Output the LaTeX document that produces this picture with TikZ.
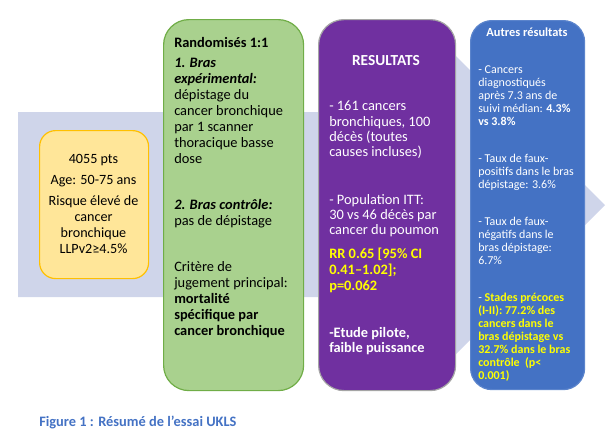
\documentclass[tikz,border=0pt]{standalone}
\usepackage{fontspec}
\setmainfont{Carlito}
\definecolor{bgblue}{HTML}{CFD5EA}
\definecolor{gfill}{HTML}{A9D18E}
\definecolor{gdraw}{HTML}{70AD47}
\definecolor{yfill}{HTML}{FFE699}
\definecolor{ydraw}{HTML}{FFC000}
\definecolor{pfill}{HTML}{7030A0}
\definecolor{pdraw}{HTML}{A5A5A5}
\definecolor{bfill}{HTML}{4472C4}
\definecolor{bdraw}{HTML}{5B84CC}
\definecolor{hl}{HTML}{FFFF00}
\definecolor{capblue}{HTML}{4472C4}
\begin{document}
\begin{tikzpicture}[x=0.75pt,y=-0.75pt,
  box/.style={draw, line width=0.9pt, inner sep=0pt, anchor=north west},
  txt/.style={inner sep=0pt, anchor=north west, align=left},
  gtxt/.style={txt, text=black, font=\fontsize{10.8}{12}\selectfont},
  ptxt/.style={txt, text=white, font=\fontsize{10.8}{11.5}\selectfont},
  btxt/.style={txt, text=white, font=\fontsize{9}{9.75}\selectfont},
]
\useasboundingbox (0,0) rectangle (614,444);
% background arrow
\fill[bgblue] (18,112) -- (455,112) -- (455,55) -- (605,205) -- (455,355) -- (455,297) -- (18,297) -- cycle;
% boxes
\node[box, fill=yfill, draw=ydraw, rounded corners=12pt, minimum width=81.75pt, minimum height=111pt] (ybox) at (39,130) {};
\node[box, fill=gfill, draw=gdraw, rounded corners=19pt, minimum width=105pt, minimum height=278.25pt] (gbox) at (163,19) {};
\node[box, fill=pfill, draw=pdraw, rounded corners=19pt, minimum width=102.75pt, minimum height=278.25pt] (pbox) at (318,19) {};
\node[box, fill=bfill, draw=bdraw, rounded corners=16pt, minimum width=85.5pt, minimum height=276.75pt] (bbox) at (470,20) {};
% yellow text
\node[inner sep=0pt, anchor=north, align=center, font=\fontsize{10.6}{12}\selectfont] (yt) at (93.5,154)
  {4055 pts\\[3.8pt]Age: 50-75 ans\\[3.8pt]Risque élevé de\\cancer\\bronchique\\LLPv2≥4.5\%};
% green text
\node[gtxt] (g1) at (174,37) {\textbf{Randomisés 1:1}};
\node[gtxt] (g2) at (174,58) {\textbf{\textit{1. Bras}}\\\textbf{\textit{expérimental:}}\\dépistage du\\cancer bronchique\\par 1 scanner\\thoracique basse\\dose};
\node[gtxt] (g3) at (174,199) {\textbf{\textit{2. Bras contrôle:}}\\pas de dépistage};
\node[gtxt] (g4) at (174,261) {Critère de\\jugement principal:\\\textbf{mortalité}\\\textbf{spécifique par}\\\textbf{cancer bronchique}};
% purple text
\node[inner sep=0pt, text=white, font=\bfseries\fontsize{11.5}{12}\selectfont] (p0) at (386,61) {RESULTATS};
\node[ptxt] (p1) at (329,101) {- 161 cancers\\bronchiques, 100\\décès (toutes\\causes incluses)};
\node[ptxt] (p2) at (329,194) {- Population ITT:\\30 vs 46 décès par\\cancer du poumon};
\node[ptxt, text=hl, font=\bfseries\fontsize{10.8}{11.8}\selectfont] (p3) at (329,248) {RR 0.65 [95\% CI\\0.41–1.02];\\p=0.062};
\node[ptxt, font=\bfseries\fontsize{10.8}{11.5}\selectfont] (p4) at (329,327) {-Etude pilote,\\faible puissance};
% blue text
\node[inner sep=0pt, text=white, font=\bfseries\fontsize{9.3}{10}\selectfont] (b0) at (527,32) {Autres résultats};
\node[btxt] (b1) at (478,65) {- Cancers\\diagnostiqués\\après 7.3 ans de\\suivi médian: \textbf{4.3\%}\\\textbf{vs 3.8\%}};
\node[btxt] (b2) at (478,154) {- Taux de faux-\\positifs dans le bras\\dépistage: 3.6\%};
\node[btxt] (b3) at (478,217) {- Taux de faux-\\négatifs dans le\\bras dépistage:\\6.7\%};
\node[btxt] (b4) at (478,293) {- \textcolor{hl}{\textbf{Stades précoces}}\\\textcolor{hl}{\textbf{(I-II): 77.2\% des}}\\\textcolor{hl}{\textbf{cancers dans le}}\\\textcolor{hl}{\textbf{bras dépistage vs}}\\\textcolor{hl}{\textbf{32.7\% dans le bras}}\\\textcolor{hl}{\textbf{contrôle\ \ (p<}}\\\textcolor{hl}{\textbf{0.001)}}};
% caption
\node[inner sep=0pt, anchor=west, text=capblue, font=\bfseries\fontsize{10.8}{12}\selectfont] (cap) at (39,422) {Figure 1 : Résumé de l’essai UKLS};
\end{tikzpicture}
\end{document}
